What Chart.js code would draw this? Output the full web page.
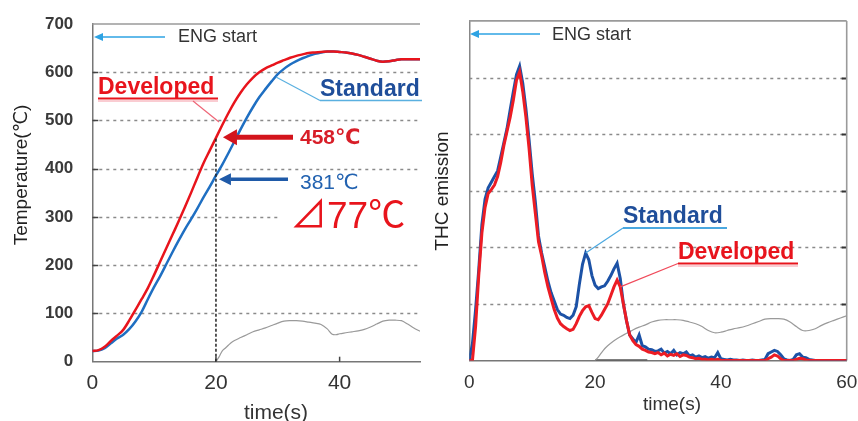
<!DOCTYPE html>
<html><head><meta charset="utf-8">
<script src="https://cdn.jsdelivr.net/npm/chart.js@4.4.0/dist/chart.umd.min.js"></script>
<style>
html,body{margin:0;padding:0;background:#fff;overflow:hidden}
#wrap{position:relative;width:858px;height:421px;background:#fff}
canvas{position:absolute;top:0}
#cL{left:0}
#cR{left:430px}
</style></head><body>
<div id="wrap"><canvas id="cL" width="430" height="421"></canvas><canvas id="cR" width="428" height="421"></canvas></div>
<script>
const FONT = "'Liberation Sans', Arial, 'DejaVu Sans', 'Noto Sans CJK JP', sans-serif";
const FONT_CJK = "'Liberation Sans', Arial, 'Noto Sans CJK JP', sans-serif";

// ---------- Left chart data: catalyst temperature ----------
const tempTime = [0,1,2,3,4,5,6,7,8,9,10,11,12,13,14,15,16,17,18,19,20,21,22,23,24,25,26,27,28,29,30,31,32,33,34,35,36,37,38,39,40,41,42,43,44,45,46,47,48,49,50,51,52,53];
const tempDeveloped = [22,24,31,43,54,66,86,108,130,153,180,208,236,264,292,321,351,382,412,438,464,490,515,538,558,575,589,600,608,614,620,625,630,634,637,640,641,642,643,643,642,641,639,636,632,628,624,622,623,625,627,627,627,627];
const tempStandard = [22,23,28,38,48,56,68,84,104,130,155,178,203,228,252,275,296,318,341,363,386,408,432,457,482,506,528,548,565,581,596,607,616,623,629,634,638,641,643,643,642,641,639,636,632,628,624,622,623,625,627,627,627,627];
const speedTimeL = [20,20.5,21,21.5,22,22.5,23,24,25,26,27,28,29,30,31,32,33,34,35,36,37,38,38.8,39.5,40,41,42,43,44,45,46,47,48,49,50,51,52,53];
const speedL = [0,10,22,28,34,40,44,50,56,62,66,70,75,80,84,85,85,84,82,80,77,68,57,56,58,60,62,64,67,72,78,84,86,86,85,78,70,63];
const tempTicks = [0,100,200,300,400,500,600,700];
const tempGrid = [100,200,300,400,500,600];
const timeTicksL = [0,20,40];

// ---------- Right chart data: THC emission ----------
const thcTime = [0,0.5,1,1.5,2,2.5,3,3.5,4,4.5,5,5.5,6,6.5,7,7.5,8,8.5,9,9.5,10,10.5,11,11.5,12,12.5,13,13.5,14,14.5,15,15.5,16,16.5,17,17.5,18,18.5,19,19.5,20,20.5,21,21.5,22,22.5,23,23.5,24,24.5,25,25.5,26,26.5,27,27.5,28,28.5,29,29.5,30,30.5,31,31.5,32,32.5,33,33.5,34,34.5,35,35.5,36,36.5,37,37.5,38,38.5,39,39.5,40,40.5,41,41.5,42,42.5,43,43.5,44,44.5,45,45.5,46,46.5,47,47.5,48,48.5,49,49.5,50,50.5,51,51.5,52,52.5,53,53.5,54,54.5,55,55.5,56,56.5,57,57.5,58,58.5,59,59.5,60];
const thcStandard = [0,0.3,0.9,1.6,2.4,2.85,3.05,3.15,3.25,3.35,3.6,3.85,4.1,4.43,4.75,5.05,5.2,4.9,4.45,3.9,3.3,2.8,2.2,1.9,1.65,1.4,1.2,1.05,0.9,0.82,0.8,0.76,0.74,0.8,0.95,1.35,1.7,1.9,1.78,1.5,1.33,1.27,1.3,1.32,1.4,1.5,1.62,1.72,1.45,1.0,0.7,0.45,0.38,0.32,0.45,0.26,0.24,0.2,0.19,0.16,0.17,0.2,0.13,0.16,0.12,0.18,0.1,0.14,0.12,0.15,0.08,0.1,0.06,0.08,0.05,0.07,0.04,0.06,0.05,0.14,0.03,0.02,0.01,0.02,0.01,0.01,0,0.01,0,0,0.01,0,0,0.01,0.02,0.12,0.15,0.18,0.16,0.1,0.03,0.01,0,0.02,0.1,0.12,0.06,0.05,0.02,0.01,0,0,0,0,0,0,0,0,0,0,0];
const thcDeveloped = [0,0,0.6,1.5,2.25,2.7,2.95,3.02,3.1,3.25,3.5,3.8,4.05,4.3,4.6,4.95,5.1,4.75,4.3,3.75,3.1,2.6,2.1,1.85,1.55,1.3,1.1,0.9,0.75,0.65,0.6,0.56,0.53,0.55,0.65,0.78,0.88,0.95,0.97,0.85,0.74,0.72,0.8,0.9,1.0,1.15,1.3,1.42,1.3,1.0,0.7,0.45,0.35,0.28,0.25,0.2,0.18,0.15,0.14,0.12,0.14,0.1,0.13,0.08,0.11,0.09,0.12,0.07,0.1,0.09,0.06,0.05,0.03,0.04,0.02,0.02,0.01,0.02,0.01,0.02,0,0,0,0,0,0,0,0,0,0,0,0,0,0,0,0.03,0.06,0.1,0.08,0.03,0,0,0,0,0.02,0.04,0.03,0.01,0,0,0,0,0,0,0,0,0,0,0,0,0];
const speedTimeR = [20,20.5,21.3,22,23,24,25,26,27,28,29,30,31,32,33,34,35,36,37,38,39,40,41,42,43,44,45,46,47,48,49,50,51,52,53,54,55,56,57,58,59,60];
const speedR = [0,0.06,0.18,0.26,0.35,0.42,0.48,0.54,0.59,0.63,0.68,0.71,0.72,0.72,0.72,0.71,0.68,0.65,0.6,0.53,0.49,0.5,0.53,0.56,0.58,0.61,0.65,0.69,0.73,0.74,0.74,0.73,0.68,0.6,0.53,0.53,0.56,0.62,0.67,0.71,0.75,0.79];
const baseTimeR = [20,28.3];
const baseR = [0,0];
const thcGrid = [1,2,3,4,5];
const timeTicksR = [0,20,40,60];

const pts = (xs, ys) => xs.map((x, i) => ({x, y: ys[i]}));

function txt(ctx, s, x, y, size, color, weight, align, rot, fam) {
  ctx.save();
  ctx.font = (weight || 'normal') + ' ' + size + 'px ' + (fam || FONT);
  ctx.fillStyle = color; ctx.textAlign = align || 'left'; ctx.textBaseline = 'middle';
  ctx.translate(x, y); if (rot) ctx.rotate(rot);
  ctx.fillText(s, 0, 0); ctx.restore();
}
function line(ctx, x1, y1, x2, y2, color, lw, dash) {
  ctx.save(); ctx.strokeStyle = color; ctx.lineWidth = lw; ctx.setLineDash(dash || []);
  ctx.beginPath(); ctx.moveTo(x1, y1); ctx.lineTo(x2, y2); ctx.stroke(); ctx.restore();
}
function arrow(ctx, x1, y1, x2, y2, lw, hl, hw, color) {
  const a = Math.atan2(y2 - y1, x2 - x1);
  const bx = x2 - hl * Math.cos(a), by = y2 - hl * Math.sin(a);
  ctx.save(); ctx.strokeStyle = color; ctx.fillStyle = color; ctx.lineWidth = lw; ctx.setLineDash([]);
  ctx.beginPath(); ctx.moveTo(x1, y1); ctx.lineTo(bx, by); ctx.stroke();
  ctx.beginPath(); ctx.moveTo(x2, y2);
  ctx.lineTo(bx + hw * Math.sin(a), by - hw * Math.cos(a));
  ctx.lineTo(bx - hw * Math.sin(a), by + hw * Math.cos(a));
  ctx.closePath(); ctx.fill(); ctx.restore();
}

const leftDeco = {
  id: 'leftDeco',
  beforeDatasetsDraw(chart) {
    const {ctx, chartArea: a, scales: {x, y}} = chart;
    tempGrid.forEach(v => {
      const py = Math.round(y.getPixelForValue(v)) + 0.5;
      line(ctx, a.left, py, a.right, py, '#8a8a8a', 1.3, [3, 4]);
      line(ctx, a.left, py, a.left + 6, py, '#444', 1.5);
    });
    line(ctx, a.left, a.top, a.right, a.top, '#9a9a9a', 1.6);
    [20, 40].forEach(v => {
      const px = x.getPixelForValue(v);
      line(ctx, px, a.bottom, px, a.bottom - 5, '#444', 1.5);
    });
  },
  afterDatasetsDraw(chart) {
    const {ctx, scales: {x, y}} = chart;
    const x20 = x.getPixelForValue(20);
    line(ctx, x20, y.getPixelForValue(0), x20, y.getPixelForValue(464), '#222', 1.5, [3, 2]);
    arrow(ctx, 165, 37, 94, 37, 1.6, 9, 4, '#2ea3e3');
    txt(ctx, 'ENG start', 178, 37, 18, '#333');
    txt(ctx, 'Developed', 98, 88, 23, '#e8141c', 'bold');
    line(ctx, 98, 98.5, 218, 98.5, '#e8141c', 2);
    line(ctx, 98, 101, 218, 101, '#f59aa5', 1);
    line(ctx, 193, 101, 219, 122, '#ee6677', 1.2);
    txt(ctx, 'Standard', 320, 90, 23, '#1f4e9a', 'bold');
    line(ctx, 320, 100.5, 422, 100.5, '#5ab0e0', 1.6);
    line(ctx, 276, 77, 320, 100.5, '#5ab0e0', 1.2);
    arrow(ctx, 293, y.getPixelForValue(465), x20 + 7, y.getPixelForValue(465), 5, 14, 8, '#d3141c');
    txt(ctx, '458℃', 300, 138, 21, '#d81e28', 'bold');
    arrow(ctx, 288, y.getPixelForValue(378), x20 + 3, y.getPixelForValue(378), 3.5, 12, 6, '#1f5aa8');
    txt(ctx, '381℃', 300, 183, 21, '#2262b0');
    ctx.save(); ctx.fillStyle = '#fff'; ctx.fillRect(280, 201, 145, 36); ctx.restore();
    txt(ctx, '⊿77℃', 290, 218, 37, '#e8141c', 'normal', 'left', 0, FONT_CJK);
    txt(ctx, 'Temperature(℃)', 22, 175, 19, '#222', 'normal', 'center', -Math.PI / 2);
    txt(ctx, 'time(s)', 276, 413, 21, '#333', 'normal', 'center');
  }
};

const rightDeco = {
  id: 'rightDeco',
  beforeDatasetsDraw(chart) {
    const {ctx, chartArea: a, scales: {x, y}} = chart;
    thcGrid.forEach(v => {
      const py = Math.round(y.getPixelForValue(v)) + 0.5;
      line(ctx, a.left, py, a.right, py, '#8a8a8a', 1.3, [3, 4]);
      line(ctx, a.right - 5, py, a.right, py, '#333', 2);
    });
    line(ctx, a.left, a.top, a.right, a.top, '#9a9a9a', 1.6);
    line(ctx, a.right, a.top, a.right, a.bottom, '#9a9a9a', 1.6);
  },
  afterDatasetsDraw(chart) {
    const {ctx, scales: {x, y}} = chart;
    arrow(ctx, 110, 34, 40, 34, 1.6, 9, 4, '#2ea3e3');
    txt(ctx, 'ENG start', 122, 35, 18, '#333');
    txt(ctx, 'Standard', 193, 217, 23, '#1f4e9a', 'bold');
    line(ctx, 193, 228, 297, 228, '#4aa8e0', 2);
    line(ctx, x.getPixelForValue(18.5), y.getPixelForValue(1.9), 193, 228, '#4aa8e0', 1.2);
    txt(ctx, 'Developed', 248, 253, 23, '#e8141c', 'bold');
    line(ctx, 248, 263.5, 368, 263.5, '#e8141c', 2);
    line(ctx, 248, 266, 368, 266, '#f59aa5', 1);
    line(ctx, x.getPixelForValue(24), y.getPixelForValue(1.3), 248, 263.5, '#f04a5a', 1.2);
    txt(ctx, 'THC emission', 13, 191, 19, '#222', 'normal', 'center', -Math.PI / 2);
    txt(ctx, 'time(s)', 242, 405, 19, '#333', 'normal', 'center');
  }
};

const common = {
  responsive: false, animation: false, devicePixelRatio: 1,
  plugins: {legend: {display: false}, tooltip: {enabled: false}},
  elements: {point: {radius: 0}}
};
const noPad = s => { s.paddingLeft = 0; s.paddingRight = 0; s.paddingTop = 0; s.paddingBottom = 0; };

new Chart(document.getElementById('cL'), {
  type: 'line',
  data: {datasets: [
    {label: 'Developed', data: pts(tempTime, tempDeveloped), borderColor: '#e8141c', borderWidth: 2.5, tension: 0.4, cubicInterpolationMode: 'monotone'},
    {label: 'Standard', data: pts(tempTime, tempStandard), borderColor: '#1f6fc2', borderWidth: 2.5, tension: 0.4, cubicInterpolationMode: 'monotone'},
    {label: 'Vehicle speed', data: pts(speedTimeL, speedL), borderColor: '#9a9a9a', borderWidth: 1.2, tension: 0.3}
  ]},
  options: Object.assign({}, common, {
    layout: {padding: {top: 24, right: 10, left: 0, bottom: 0}},
    scales: {
      x: {type: 'linear', min: 0, max: 53,
        afterBuildTicks: s => { s.ticks = timeTicksL.map(v => ({value: v})); },
        afterFit: s => { s.height = 59.3; noPad(s); },
        grid: {display: false, drawTicks: false},
        border: {display: true, color: '#777', width: 1.5},
        ticks: {color: '#333', padding: 9, maxRotation: 0, font: {size: 21, family: FONT}}},
      y: {type: 'linear', min: 0, max: 700,
        afterBuildTicks: s => { s.ticks = tempTicks.map(v => ({value: v})); },
        afterFit: s => { s.width = 92.3; noPad(s); },
        grid: {display: false, drawTicks: false},
        border: {display: true, color: '#777', width: 1.5},
        ticks: {color: '#3a3a3a', padding: 19, font: {size: 17, weight: 'bold', family: FONT}}}
    }
  }),
  plugins: [leftDeco]
});

new Chart(document.getElementById('cR'), {
  type: 'line',
  data: {datasets: [
    {label: 'Developed', data: pts(thcTime, thcDeveloped), borderColor: '#ec1c24', borderWidth: 3, tension: 0},
    {label: 'Standard', data: pts(thcTime, thcStandard), borderColor: '#1c52a6', borderWidth: 3, tension: 0},
    {label: 'Vehicle speed', data: pts(speedTimeR, speedR), borderColor: '#9a9a9a', borderWidth: 1.2, tension: 0.3},
    {label: 'base', data: pts(baseTimeR, baseR), borderColor: '#555', borderWidth: 2.5}
  ]},
  options: Object.assign({}, common, {
    layout: {padding: {top: 20.9, right: 11.3, left: 0, bottom: 0}},
    scales: {
      x: {type: 'linear', min: 0, max: 60,
        afterBuildTicks: s => { s.ticks = timeTicksR.map(v => ({value: v})); },
        afterFit: s => { s.height = 60.5; noPad(s); },
        grid: {display: false, drawTicks: false},
        border: {display: true, color: '#777', width: 1.5},
        ticks: {color: '#333', padding: 11, maxRotation: 0, font: {size: 19, family: FONT}}},
      y: {type: 'linear', min: 0, max: 6,
        afterFit: s => { s.width = 39.3; noPad(s); },
        grid: {display: false, drawTicks: false},
        border: {display: true, color: '#888', width: 1.5},
        ticks: {display: false}}
    }
  }),
  plugins: [rightDeco]
});
</script>
</body></html>
